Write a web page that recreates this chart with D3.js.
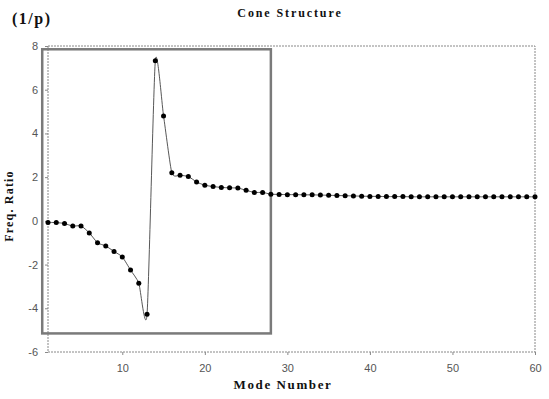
<!DOCTYPE html>
<html>
<head>
<meta charset="utf-8">
<script src="https://cdn.jsdelivr.net/npm/d3@7"></script>
<style>
  body { margin: 0; background: #fff; }
  svg { display: block; }
  .tick text { font-family: "Liberation Sans", Arial, sans-serif; font-size: 11px; fill: #555; }
  .serif { font-family: "Liberation Serif", "Times New Roman", serif; font-weight: bold; fill: #111; }
</style>
</head>
<body>
<svg id="chart"></svg>
<script>
(function () {

  var width = 549, height = 399;

  // mode numbers 1..60 and frequency ratio
  var modes = [1,2,3,4,5,6,7,8,9,10,11,12,13,14,15,16,17,18,19,20,
               21,22,23,24,25,26,27,28,29,30,31,32,33,34,35,36,37,38,39,40,
               41,42,43,44,45,46,47,48,49,50,51,52,53,54,55,56,57,58,59,60];
  var ratios = [-0.07,-0.08,-0.12,-0.24,-0.23,-0.55,-1.0,-1.15,-1.4,-1.65,
                -2.25,-2.85,-4.27,7.32,4.8,2.2,2.09,2.03,1.78,1.63,
                1.57,1.53,1.51,1.5,1.4,1.3,1.3,1.22,1.21,1.2,
                1.2,1.19,1.19,1.18,1.17,1.16,1.15,1.14,1.13,1.12,
                1.12,1.11,1.11,1.11,1.1,1.1,1.1,1.1,1.1,1.1,
                1.1,1.1,1.1,1.1,1.1,1.1,1.1,1.1,1.1,1.1];
  var xTicks = [10, 20, 30, 40, 50, 60];
  var yTicks = [-6, -4, -2, 0, 2, 4, 6, 8];
  // highlighted region (data units): modes ~0.3..28, ratio -5.15..7.85
  var boxX = [0.3, 28];
  var boxY = [-5.15, 7.85];

  var margin = { left: 48, right: 14, top: 46, bottom: 47 };

  var svg = d3.select('#chart')
    .attr('width', width)
    .attr('height', height);

  var x = d3.scaleLinear().domain([1, 60]).range([margin.left, width - margin.right]);
  var y = d3.scaleLinear().domain([-6, 8]).range([height - margin.bottom, margin.top]);

  var data = modes.map(function (m, i) { return { m: m, v: ratios[i] }; });

  // plot frame (top + right)
  svg.append('path')
    .attr('d', 'M' + x(1) + ',' + y(8) + 'H' + x(60) + 'V' + y(-6))
    .attr('fill', 'none')
    .attr('stroke', '#888')
    .attr('stroke-width', 1)
    .attr('stroke-dasharray', '2,1');

  // axes (plain hyphen for negatives, like the original)
  var fmt = function (d) { return String(d); };
  var xAxis = svg.append('g')
    .attr('transform', 'translate(0,' + y(-6) + ')')
    .call(d3.axisBottom(x).tickValues(xTicks).tickFormat(fmt).tickSize(3).tickPadding(9));
  var yAxis = svg.append('g')
    .attr('transform', 'translate(' + x(1) + ',0)')
    .call(d3.axisLeft(y).tickValues(yTicks).tickFormat(fmt).tickSize(3).tickPadding(7));

  [xAxis, yAxis].forEach(function (g) {
    g.select('.domain').attr('stroke', '#888').attr('stroke-dasharray', '2,1');
    g.selectAll('.tick line').attr('stroke', '#888');
  });
  xAxis.select('.domain').attr('d', 'M' + x(1) + ',0H' + x(60));
  yAxis.select('.domain').attr('d', 'M0,' + y(8) + 'V' + y(-6));

  // highlight rectangle
  svg.append('rect')
    .attr('x', x(boxX[0]))
    .attr('y', y(boxY[1]))
    .attr('width', x(boxX[1]) - x(boxX[0]))
    .attr('height', y(boxY[0]) - y(boxY[1]))
    .attr('fill', 'none')
    .attr('stroke', '#7a7a7a')
    .attr('stroke-width', 2.5);

  // line
  var line = d3.line()
    .x(function (d) { return x(d.m); })
    .y(function (d) { return y(d.v); })
    .curve(d3.curveCardinal.tension(0.4));

  svg.append('path')
    .datum(data)
    .attr('d', line)
    .attr('fill', 'none')
    .attr('stroke', '#444')
    .attr('stroke-width', 0.9);

  // markers
  svg.selectAll('.pt')
    .data(data)
    .join('circle')
    .attr('class', 'pt')
    .attr('cx', function (d) { return x(d.m); })
    .attr('cy', function (d) { return y(d.v); })
    .attr('r', 2.5)
    .attr('fill', '#000');

  // texts
  svg.append('text')
    .attr('class', 'serif')
    .attr('x', 290).attr('y', 17)
    .attr('text-anchor', 'middle')
    .style('font-size', '12px')
    .style('letter-spacing', '1.9px')
    .text('Cone Structure');

  svg.append('text')
    .attr('class', 'serif')
    .attr('x', 12).attr('y', 24)
    .style('font-size', '16px')
    .style('letter-spacing', '1.5px')
    .text('(1/p)');

  svg.append('text')
    .attr('class', 'serif')
    .attr('transform', 'translate(13,206) rotate(-90)')
    .attr('text-anchor', 'middle')
    .style('font-size', '12px')
    .style('letter-spacing', '1.2px')
    .text('Freq. Ratio');

  svg.append('text')
    .attr('class', 'serif')
    .attr('x', 283).attr('y', 389)
    .attr('text-anchor', 'middle')
    .style('font-size', '13px')
    .style('letter-spacing', '1.6px')
    .text('Mode Number');

})();
</script>
</body>
</html>
